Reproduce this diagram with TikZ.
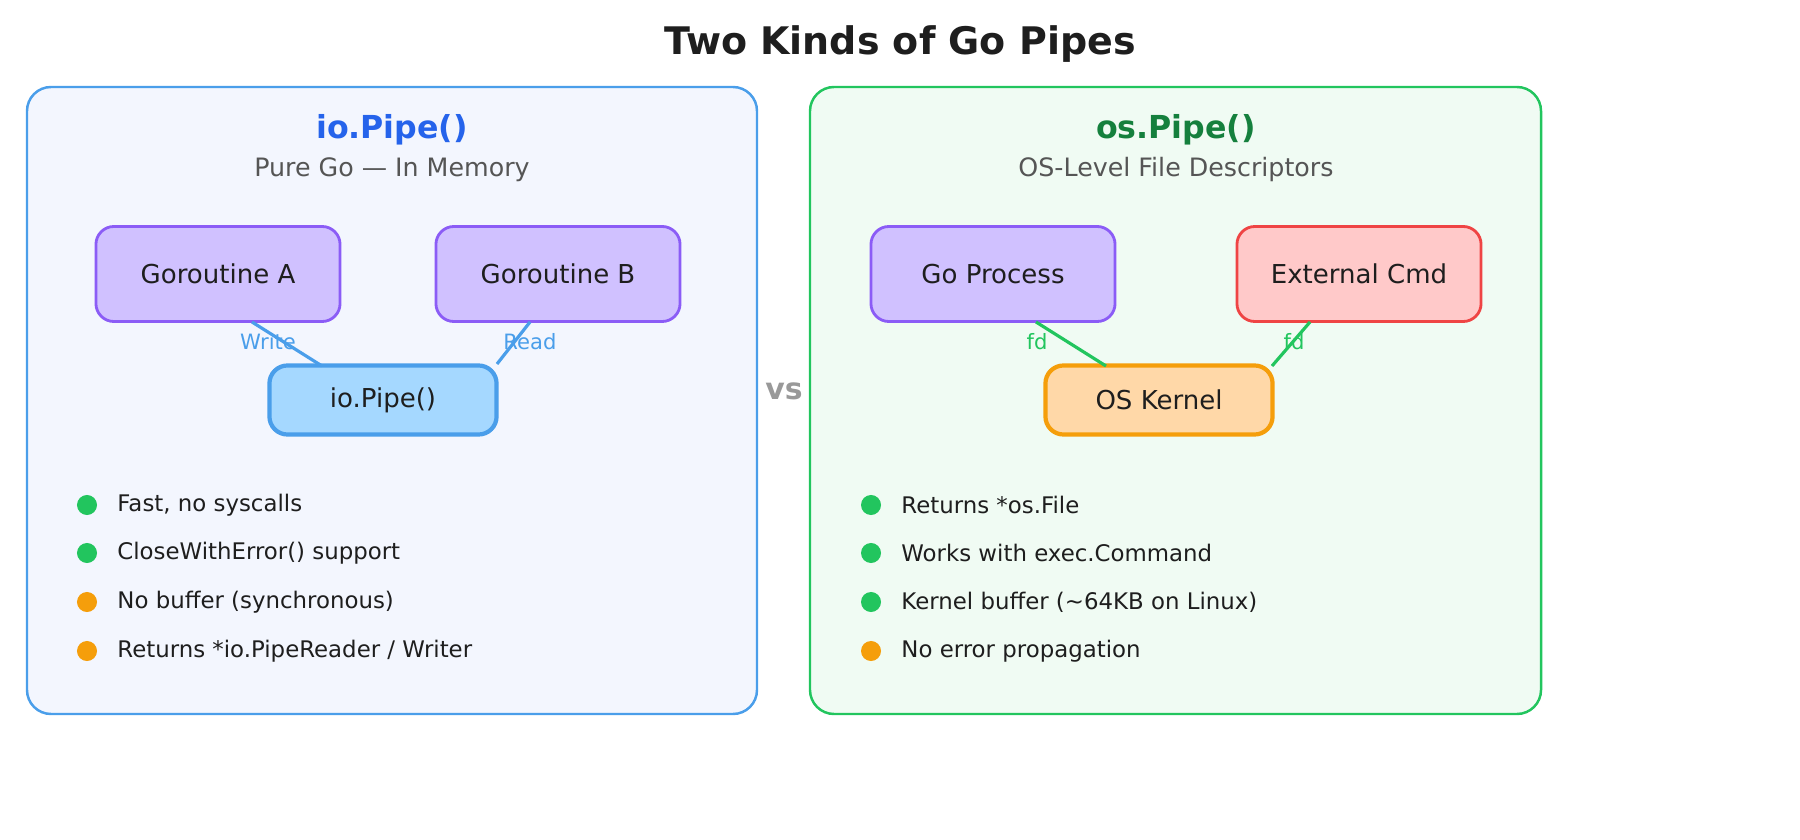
\documentclass[tikz,border=0pt]{standalone}
\usepackage{fontspec}
\setmainfont{DejaVu Sans}
\usetikzlibrary{positioning}
\definecolor{bluebd}{HTML}{4A9EEA}
\definecolor{bluebg}{HTML}{F3F6FE}
\definecolor{bluehd}{HTML}{2563EB}
\definecolor{greenbd}{HTML}{22C55E}
\definecolor{greenbg}{HTML}{F0FBF3}
\definecolor{greenhd}{HTML}{15803D}
\definecolor{purplebd}{HTML}{8B5CF6}
\definecolor{purplebg}{HTML}{D0C1FF}
\definecolor{pipebg}{HTML}{A5D8FF}
\definecolor{redbd}{HTML}{EF4444}
\definecolor{redbg}{HTML}{FFC9C9}
\definecolor{orangebd}{HTML}{F59E0B}
\definecolor{orangebg}{HTML}{FFD8A8}
\definecolor{txt}{HTML}{1E1E1E}
\definecolor{subtxt}{HTML}{555555}
\definecolor{vsgray}{HTML}{999999}
\begin{document}
\begin{tikzpicture}[
    x=0.01cm, y=-0.01cm,
    panel/.style={rounded corners=0.24cm, line width=0.7pt},
    proc/.style={
        rectangle,
        rounded corners=0.18cm,
        line width=0.8pt,
        minimum width=2.44cm,
        minimum height=0.95cm,
        font=\fontsize{7.4}{9}\selectfont,
        text=txt
    },
    mid/.style={proc, line width=1.2pt, minimum width=2.27cm, minimum height=0.69cm},
    link/.style={line width=0.9pt},
    lbl/.style={font=\fontsize{6}{7}\selectfont},
    dot/.style={circle, inner sep=0pt, minimum size=0.2cm},
    item/.style={anchor=west, font=\fontsize{6.5}{8}\selectfont, text=txt}
]
    \useasboundingbox (0,0) rectangle (1800,840);
    \node[font=\bfseries\fontsize{10.8}{12}\selectfont, text=txt] (title) at (900,44) {Two Kinds of Go Pipes};

    % left panel
    \draw[panel, draw=bluebd, fill=bluebg] (27,87) rectangle (757,714);
    \node[font=\bfseries\fontsize{9}{11}\selectfont, text=bluehd] (lhead) at (392,130) {io.Pipe()};
    \node[font=\fontsize{7.2}{9}\selectfont, text=subtxt] (lsub) at (392,170) {Pure Go — In Memory};
    \node[proc, draw=purplebd, fill=purplebg] (ga) at (218,274) {Goroutine A};
    \node[proc, draw=purplebd, fill=purplebg] (gb) at (558,274) {Goroutine B};
    \node[mid, draw=bluebd, fill=pipebg] (iopipe) at (383,400) {io.Pipe()};
    \coordinate (wa) at (252,322);
    \coordinate (wb) at (322,366);
    \coordinate (ra) at (530,322);
    \coordinate (rb) at (497,364);
    \draw[link, bluebd] (wa) -- (wb);
    \draw[link, bluebd] (ra) -- (rb);
    \node[lbl, text=bluebd] (wlbl) at (268,342) {Write};
    \node[lbl, text=bluebd] (rlbl) at (530,342) {Read};

    % left bullets
    \foreach \y/\c/\t [count=\i] in {505/greenbd/{Fast, no syscalls},
        553/greenbd/{CloseWithError() support},
        602/orangebd/{No buffer (synchronous)},
        651/orangebd/{Returns *io.PipeReader / Writer}} {
        \node[dot, fill=\c] (ld\i) at (87,\y) {};
        \node[item] (lt\i) at (105,\y) {\t};
    }

    % versus
    \node[font=\bfseries\fontsize{8.5}{10}\selectfont, text=vsgray] (vs) at (784,391) {vs};

    % right panel
    \draw[panel, draw=greenbd, fill=greenbg] (810,87) rectangle (1541,714);
    \node[font=\bfseries\fontsize{9}{11}\selectfont, text=greenhd] (rhead) at (1176,130) {os.Pipe()};
    \node[font=\fontsize{7.2}{9}\selectfont, text=subtxt] (rsub) at (1176,170) {OS-Level File Descriptors};
    \node[proc, draw=purplebd, fill=purplebg] (gop) at (993,274) {Go Process};
    \node[proc, draw=redbd, fill=redbg] (ext) at (1359,274) {External Cmd};
    \node[mid, draw=orangebd, fill=orangebg] (kern) at (1159,400) {OS Kernel};
    \coordinate (fa) at (1036,322);
    \coordinate (fb) at (1106,366);
    \coordinate (ea) at (1310,322);
    \coordinate (eb) at (1272,366);
    \draw[link, greenbd] (fa) -- (fb);
    \draw[link, greenbd] (ea) -- (eb);
    \node[lbl, text=greenbd] (flbl) at (1037,342) {fd};
    \node[lbl, text=greenbd] (elbl) at (1294,342) {fd};

    % right bullets
    \foreach \y/\c/\t [count=\i] in {505/greenbd/{Returns *os.File},
        553/greenbd/{Works with exec.Command},
        602/greenbd/{Kernel buffer (\textasciitilde 64KB on Linux)},
        651/orangebd/{No error propagation}} {
        \node[dot, fill=\c] (rd\i) at (871,\y) {};
        \node[item] (rt\i) at (889,\y) {\t};
    }
\end{tikzpicture}
\end{document}
